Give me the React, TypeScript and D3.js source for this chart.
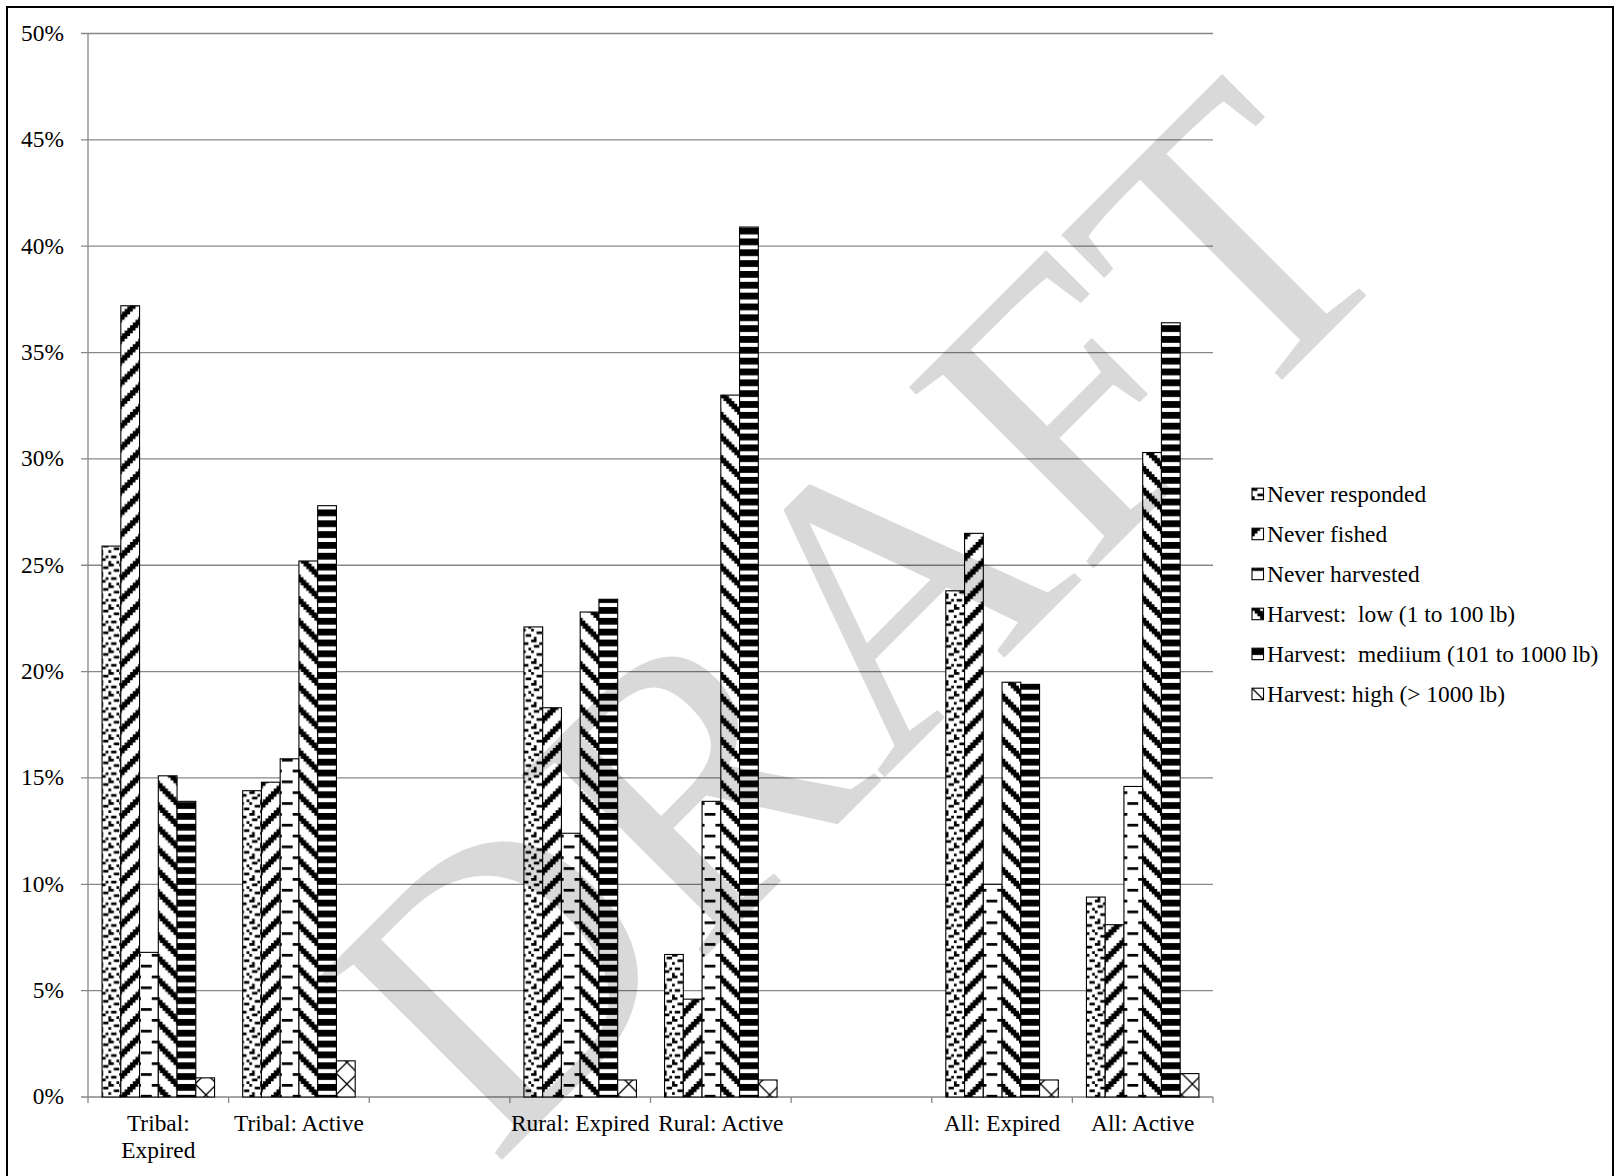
import React from 'react';
import * as d3 from 'd3';

// ---------- data ----------
const categories = ["Tribal:\nExpired", "Tribal: Active", "", "Rural: Expired", "Rural: Active", "", "All: Expired", "All: Active"];
const seriesNames = [
  "Never responded",
  "Never fished",
  "Never harvested",
  "Harvest:  low (1 to 100 lb)",
  "Harvest:  mediium (101 to 1000 lb)",
  "Harvest: high (> 1000 lb)",
];
const neverResponded = [25.9, 14.4, null, 22.1, 6.7, null, 23.8, 9.4];
const neverFished = [37.2, 14.8, null, 18.3, 4.6, null, 26.5, 8.1];
const neverHarvested = [6.8, 15.9, null, 12.4, 13.9, null, 10.0, 14.6];
const harvestLow = [15.1, 25.2, null, 22.8, 33.0, null, 19.5, 30.3];
const harvestMedium = [13.9, 27.8, null, 23.4, 40.9, null, 19.4, 36.4];
const harvestHigh = [0.9, 1.7, null, 0.8, 0.8, null, 0.8, 1.1];
const seriesValues = [neverResponded, neverFished, neverHarvested, harvestLow, harvestMedium, harvestHigh];
const yTicks = [0, 5, 10, 15, 20, 25, 30, 35, 40, 45, 50];

// ---------- pattern helpers ----------
const S = 2.71; // size of one pattern pixel
const P = 8 * S;

function bitsPath(rows: string[]) {
  let d = '';
  rows.forEach((row, r) => {
    let c = 0;
    while (c < row.length) {
      if (row[c] === '1') {
        const start = c;
        while (c < row.length && row[c] === '1') c++;
        const w = (c - start) * S;
        d += `M${start * S},${r * S}h${w}v${S}h${-w}z`;
      } else c++;
    }
  });
  return d;
}
function diagRows(up: boolean) {
  const rows: string[] = [];
  for (let r = 0; r < 8; r++) {
    let s = '';
    for (let c = 0; c < 8; c++) {
      const k = up ? (c + r) % 8 : (c - r + 8) % 8;
      s += k < 3 ? '1' : '0';
    }
    rows.push(s);
  }
  return rows;
}
const confettiRows = ["11001000", "00000011", "00110000", "10000100", "00001100", "01100001", "00000110", "10010000"];
const dashRows = ["11110000", "00000000", "00000000", "00000000", "00001111", "00000000", "00000000", "00000000"];

function Patterns() {
  return (
    <defs>
      <pattern id="p0" patternUnits="userSpaceOnUse" width={P} height={P}>
        <rect width={P} height={P} fill="#fff" />
        <path d={bitsPath(confettiRows)} fill="#000" />
      </pattern>
      <pattern id="p1" patternUnits="userSpaceOnUse" width={P} height={P}>
        <rect width={P} height={P} fill="#fff" />
        <path d={bitsPath(diagRows(true))} fill="#000" />
      </pattern>
      <pattern id="p2" patternUnits="userSpaceOnUse" width={P} height={P}>
        <rect width={P} height={P} fill="#fff" />
        <path d={bitsPath(dashRows)} fill="#000" />
      </pattern>
      <pattern id="p3" patternUnits="userSpaceOnUse" width={P} height={P}>
        <rect width={P} height={P} fill="#fff" />
        <path d={bitsPath(diagRows(false))} fill="#000" />
      </pattern>
      <pattern id="p4" patternUnits="userSpaceOnUse" width={P} height={4 * S}>
        <rect width={P} height={4 * S} fill="#fff" />
        <rect width={P} height={2.5 * S} fill="#000" />
      </pattern>
      <pattern id="p5" patternUnits="userSpaceOnUse" width={P} height={P}>
        <rect width={P} height={P} fill="#fff" />
        <path d={`M0,0L${P},${P}M${P},0L0,${P}`} stroke="#000" strokeWidth={1.3} fill="none" />
      </pattern>
    </defs>
  );
}

export default function App() {
  const W = 1615, H = 1176;
  const left = 88, right = 1213, top = 33.5, bottom = 1097;
  const font = "'Liberation Serif', 'Times New Roman', serif";
  const fs = 23.4;

  const x0 = d3.scaleBand<number>().domain(d3.range(categories.length)).range([left, right]).paddingInner(0).paddingOuter(0);
  const x1 = d3.scaleBand<number>().domain(d3.range(seriesNames.length)).range([0, x0.bandwidth()]).paddingInner(0).paddingOuter(0.75);
  const y = d3.scaleLinear().domain([0, 50]).range([bottom, top]);
  const grid = '#878787';

  const boundaries = d3.range(categories.length + 1).map(i => left + i * x0.step());

  return (
    <svg width={W} height={H} style={{ position: 'absolute', left: 0, top: 0, background: '#fff' }} fontFamily={font}>
      <Patterns />
      <rect x={0} y={0} width={W} height={H} fill="#fff" />
      {/* gridlines & y ticks */}
      {yTicks.map(t => (
        <g key={t}>
          <line x1={left - 7} x2={right} y1={y(t)} y2={y(t)} stroke={grid} strokeWidth={1.3} />
          <text x={64} y={y(t) + 7.3} textAnchor="end" fontSize={fs} fill="#000">{`${t}%`}</text>
        </g>
      ))}
      <line x1={left} x2={left} y1={top} y2={bottom} stroke={grid} strokeWidth={1.3} />
      {boundaries.map((bx, i) => (
        <line key={i} x1={bx} x2={bx} y1={bottom} y2={bottom + 6} stroke={grid} strokeWidth={1.3} />
      ))}
      {/* bars */}
      {seriesValues.map((vals, si) => (
        <g key={si}>
          {vals.map((v, ci) => v == null ? null : (
            <rect key={ci}
              x={(x0(ci) as number) + (x1(si) as number)}
              y={y(v)}
              width={x1.bandwidth()}
              height={bottom - y(v)}
              fill={`url(#p${si})`}
              stroke="#000" strokeWidth={1.1} />
          ))}
        </g>
      ))}
      {/* x labels */}
      {categories.map((c, i) => {
        if (!c) return null;
        const lines = c.split('\n');
        const cx = (x0(i) as number) + x0.bandwidth() / 2;
        return (
          <text key={i} x={cx} y={1131} textAnchor="middle" fontSize={fs} fill="#000">
            {lines.map((ln, k) => <tspan key={k} x={cx} dy={k === 0 ? 0 : 26.7}>{ln}</tspan>)}
          </text>
        );
      })}
      {/* legend */}
      {seriesNames.map((name, i) => {
        const by = 501.7 + i * 40;
        return (
          <g key={i}>
            <g transform={`translate(1252,${by - 13.5})`}>
              <rect x={0} y={0} width={11.5} height={11.5} fill={`url(#p${i})`} stroke="#000" strokeWidth={1.1} />
            </g>
            <text x={1267} y={by} fontSize={fs} fill="#000" style={{ whiteSpace: 'pre' }}>{name}</text>
          </g>
        );
      })}
      {/* frame */}
      <rect x={7} y={7} width={1606} height={1200} fill="none" stroke="#000" strokeWidth={2} />
      {/* watermark */}
      <text transform="translate(494,1168) rotate(-45)" fontSize={395} fill="#000" fillOpacity={0.15} fontFamily={font}>DRAFT</text>
    </svg>
  );
}
